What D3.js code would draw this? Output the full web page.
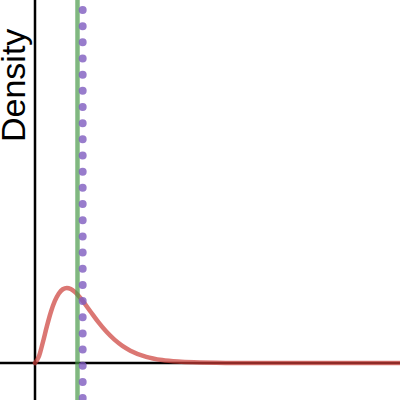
<!DOCTYPE html>
<html>
<head>
<meta charset="utf-8">
<script src="https://cdn.jsdelivr.net/npm/d3@7"></script>
<style>
  body { margin: 0; background: #fff; }
  svg { display: block; }
</style>
</head>
<body>
<div id="chart"></div>
<script>
// density curve (x, density)
var curveX = [0, 0.25, 0.5, 0.75, 1, 1.25, 1.5, 1.75, 2, 2.25, 2.5, 2.75, 3, 3.5, 4, 4.5, 5, 5.5, 6, 7, 8, 9, 10, 12, 14, 16, 20, 23];
var curveY = [0, 0.0243, 0.0758, 0.1329, 0.1839, 0.2238, 0.2510, 0.2661, 0.2707, 0.2668, 0.2565, 0.2417, 0.2240, 0.1850, 0.1465, 0.1125, 0.0842, 0.0618, 0.0446, 0.0223, 0.0107, 0.0050, 0.0023, 0.00044, 0.00008, 0.00001, 0, 0];

// reference lines
var medianValue = 2.674;
var meanValue = 3;

var width = 400,
    height = 400;

var svg = d3.select("#chart")
    .append("svg")
    .attr("width", width)
    .attr("height", height);

var x = d3.scaleLinear()
    .domain([0, 23])
    .range([35, 400.5]);

var y = d3.scaleLinear()
    .domain([0, 1.31])
    .range([363, 0]);

var pts = curveX.map(function (d, i) { return [d, curveY[i]]; });

// axes lines through zero
svg.append("line")
    .attr("x1", 0).attr("x2", width)
    .attr("y1", y(0)).attr("y2", y(0))
    .attr("stroke", "#000")
    .attr("stroke-width", 2.5);

svg.append("line")
    .attr("x1", x(0)).attr("x2", x(0))
    .attr("y1", 0).attr("y2", height)
    .attr("stroke", "#000")
    .attr("stroke-width", 2.5);

// density curve
var line = d3.line()
    .x(function (d) { return x(d[0]); })
    .y(function (d) { return y(d[1]); })
    .curve(d3.curveMonotoneX);

svg.append("path")
    .datum(pts)
    .attr("d", line)
    .attr("fill", "none")
    .attr("stroke", "#cc3d38")
    .attr("stroke-opacity", 0.7)
    .attr("stroke-width", 4.5)
    .attr("stroke-linecap", "round");

// median (solid green)
svg.append("line")
    .attr("x1", x(medianValue)).attr("x2", x(medianValue))
    .attr("y1", 0).attr("y2", height)
    .attr("stroke", "#4a9a4a")
    .attr("stroke-opacity", 0.7)
    .attr("stroke-width", 4.5);

// mean (purple dots)
svg.append("line")
    .attr("x1", x(meanValue)).attr("x2", x(meanValue))
    .attr("y1", 10).attr("y2", height)
    .attr("stroke", "#7e5bbf")
    .attr("stroke-opacity", 0.8)
    .attr("stroke-width", 8)
    .attr("stroke-linecap", "round")
    .attr("stroke-dasharray", "0,16.17");

// y label
svg.append("text")
    .attr("transform", "translate(25,142) rotate(-90)")
    .attr("text-anchor", "start")
    .style("font-family", "'Liberation Sans', Arial, sans-serif")
    .style("font-size", "34px")
    .attr("fill", "#000")
    .text("Density");
</script>
</body>
</html>
